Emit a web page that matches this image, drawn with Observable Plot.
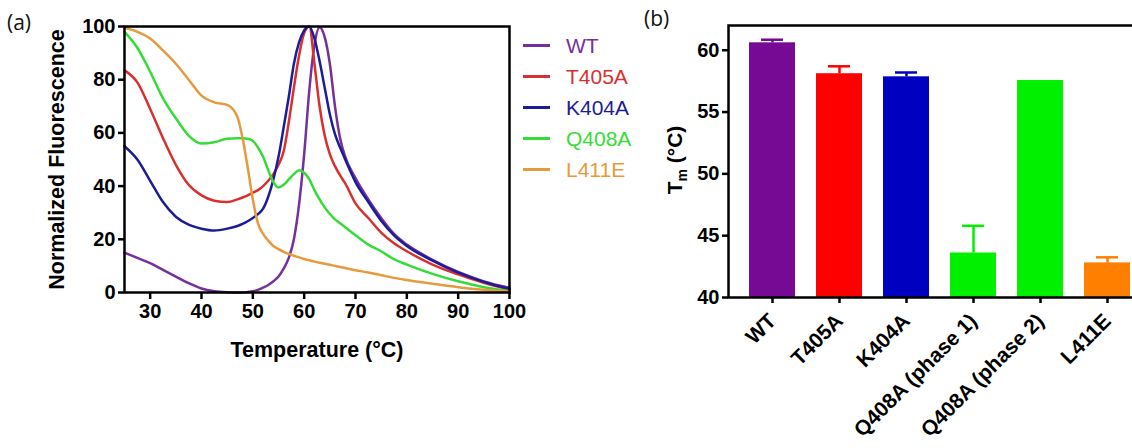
<!DOCTYPE html>
<html>
<head>
<meta charset="utf-8">
<script src="https://cdn.jsdelivr.net/npm/d3@7"></script>
<script src="https://cdn.jsdelivr.net/npm/@observablehq/plot@0.6"></script>
<style>
  html, body { margin: 0; padding: 0; background: #fff; }
  #wrap { position: relative; width: 1132px; height: 448px; overflow: hidden; background: #fff; font-family: "Liberation Sans", Arial, sans-serif; }
  .panel { position: absolute; top: 0; }
  .panel svg { max-width: none !important; }
  .tag { position: absolute; font-family: "Open Sans", sans-serif; font-size: 21px; color: #111; }
  #legend { position: absolute; left: 523px; top: 30px; }
  .item { height: 31px; display: flex; align-items: center; font-size: 21px; font-family: "Liberation Sans", Arial, sans-serif; }
  .sw { display: inline-block; width: 27px; height: 3px; margin-right: 16px; }
</style>
</head>
<body>
<div id="wrap">
  <div class="panel" id="pa" style="left:0px; width:530px"></div>
  <div class="panel" id="pb" style="left:640px; width:521px"></div>
  <div class="tag" style="left:7px; top:8px">(a)</div>
  <div class="tag" style="left:644px; top:4px">(b)</div>
  <div id="legend"></div>
</div>
<script>
// ---------- Panel (a): melt curves ----------
const temps = [25, 27.5, 30, 32.5, 35, 37.5, 40, 42.5, 45, 47, 48, 49, 50, 51, 52, 53, 54, 55, 56, 57, 58, 59, 60, 61, 62, 63, 64, 65, 66, 67, 68, 70, 72.5, 75, 77.5, 80, 85, 90, 95, 100];
const wt    = [15, 13, 11, 8.5, 6, 3.5, 1.5, 0.5, 0.1, 0, 0, 0.2, 0.5, 1, 1.8, 2.8, 4.2, 6, 9, 13, 20, 33, 52, 76, 93, 99.7, 96, 86, 70, 58, 51, 43, 35, 28, 22, 18, 12.3, 7.7, 4.2, 1.8];
const t405a = [83.5, 79, 69, 58, 48, 40.5, 36.5, 34.5, 34, 35, 35.7, 36.5, 37.5, 38.5, 40, 42, 44.5, 48, 53, 64, 77, 89, 97.5, 100, 86, 70, 59, 52, 47.5, 44, 41, 33.5, 28, 22.5, 18.5, 15.5, 10.5, 6.8, 3.6, 1.0];
const k404a = [55, 50, 42, 34, 28.5, 25.5, 24, 23.3, 24, 25, 25.8, 26.8, 28, 29.5, 31.5, 36, 42.5, 51, 62, 73.5, 86, 94, 98.5, 100, 95.5, 87, 77, 67, 59.5, 54.5, 50, 41.5, 34, 27, 21.5, 17.5, 12, 7.5, 4, 1.3];
const q408a = [98, 92, 83, 73, 65.5, 59, 56, 56.5, 57.8, 58, 58, 57.8, 57, 54.5, 51, 46, 41.5, 39.5, 40.5, 42.5, 44.5, 46, 45, 42.5, 38.5, 35, 32, 29.5, 27.5, 26, 24.5, 21.5, 18, 15.5, 12.5, 10.5, 7, 4.2, 2, 0.5];
const l411e = [99.5, 98, 95.5, 91, 86, 80, 74, 71.5, 70.5, 66, 58, 47, 35, 26, 22, 19.5, 17.5, 16.3, 15.3, 14.5, 13.8, 13.2, 12.6, 12.1, 11.6, 11.2, 10.8, 10.4, 10, 9.6, 9.2, 8.4, 7.5, 6.5, 5.5, 4.7, 3.3, 2, 1, 0.3];
const seriesNames = ["WT", "T405A", "K404A", "Q408A", "L411E"];
const seriesValues = [wt, t405a, k404a, q408a, l411e];
const lineColors = ["#74309C", "#D8302E", "#1C1C98", "#36DC36", "#E69A3C"];
const xTicksA = [30, 40, 50, 60, 70, 80, 90, 100];
const yTicksA = [0, 20, 40, 60, 80, 100];

// ---------- Panel (b): Tm bars ----------
const barNames = ["WT", "T405A", "K404A", "Q408A (phase 1)", "Q408A (phase 2)", "L411E"];
const tmValues = [60.6, 58.1, 57.85, 43.6, 57.55, 42.8];
const tmErrors = [0.25, 0.6, 0.35, 2.2, 0, 0.45];
const barColors = ["#760A94", "#FF0000", "#0000C0", "#00F000", "#00F000", "#FF8000"];
const yDomainB = [40, 62];
const yTicksB = [40, 45, 50, 55, 60];

const font = "'Liberation Sans', Arial, sans-serif";

const lineData = [];
seriesNames.forEach((s, i) => temps.forEach((t, j) => lineData.push({series: s, t, f: seriesValues[i][j]})));

const chartA = Plot.plot({
  width: 530, height: 362,
  marginLeft: 124, marginRight: 21, marginTop: 26, marginBottom: 70,
  style: {fontFamily: font, fontSize: "20px", fontWeight: "bold", color: "#000", background: "transparent", overflow: "visible", maxWidth: "none"},
  x: {domain: [25, 100]},
  y: {domain: [0, 100]},
  color: {domain: seriesNames, range: lineColors},
  marks: [
    Plot.line(lineData, {x: "t", y: "f", z: "series", stroke: "series", strokeWidth: 2.5, curve: "monotone-x"}),
    Plot.frame({stroke: "#000", strokeWidth: 2.5}),
    Plot.axisX({ticks: xTicksA, tickSize: 7, tickPadding: 4, strokeWidth: 2.5, tickFormat: d => String(d),
      label: "Temperature (°C)", labelAnchor: "center", labelArrow: "none", labelOffset: 64}),
    Plot.axisY({ticks: yTicksA, tickSize: 6, tickPadding: 3, strokeWidth: 2.5, tickFormat: d => String(d),
      label: "Normalized Fluorescence", labelAnchor: "center", labelArrow: "none", labelOffset: 76})
  ]
});
document.getElementById("pa").appendChild(chartA);
d3.select(chartA).selectAll('g[aria-label="x-axis label"], g[aria-label="y-axis label"]')
  .attr("font-size", "21.5px").style("font-size", "21.5px");

// legend
const leg = document.getElementById("legend");
seriesNames.forEach((s, i) => {
  const row = document.createElement("div");
  row.className = "item";
  row.style.color = lineColors[i];
  const sw = document.createElement("span");
  sw.className = "sw";
  sw.style.background = lineColors[i];
  row.appendChild(sw);
  row.appendChild(document.createTextNode(s));
  leg.appendChild(row);
});

const bars = barNames.map((name, i) => ({name, tm: tmValues[i], err: tmErrors[i], top: tmValues[i] + tmErrors[i]}));
const errBars = bars.filter(d => d.err > 0);

const chartB = Plot.plot({
  width: 521, height: 448,
  marginLeft: 88, marginRight: 10, marginTop: 25, marginBottom: 151,
  style: {fontFamily: font, fontSize: "20px", fontWeight: "bold", color: "#000", background: "transparent", overflow: "visible", maxWidth: "none"},
  x: {domain: barNames, paddingInner: 0.31, paddingOuter: 0.274, align: 0.5},
  y: {domain: yDomainB},
  color: {domain: barNames, range: barColors},
  marks: [
    Plot.barY(bars, {x: "name", y1: yDomainB[0], y2: "tm", fill: "name"}),
    Plot.ruleX(errBars, {x: "name", y1: "tm", y2: "top", stroke: "name", strokeWidth: 2.5}),
    Plot.tickY(errBars, {x: "name", y: "top", stroke: "name", strokeWidth: 2.5, insetLeft: 12, insetRight: 12}),
    Plot.frame({stroke: "#000", strokeWidth: 2.5}),
    Plot.axisX({tickRotate: -45, tickSize: 6, tickPadding: 14, strokeWidth: 2.5, fontSize: 21, label: null}),
    Plot.axisY({ticks: yTicksB, tickSize: 6, tickPadding: 3, strokeWidth: 2.5, tickFormat: d => String(d), label: null})
  ]
});
document.getElementById("pb").appendChild(chartB);

// y-axis title with subscript for panel (b)
const yl = d3.select(chartB).append("text")
  .attr("transform", "translate(42,160) rotate(-90)")
  .attr("text-anchor", "middle")
  .attr("fill", "#000")
  .style("font-size", "21px").style("font-weight", "bold");
yl.append("tspan").text("T");
yl.append("tspan").attr("font-size", "14px").attr("dy", "5").text("m");
yl.append("tspan").attr("dy", "-5").text(" (°C)");
</script>
</body>
</html>
